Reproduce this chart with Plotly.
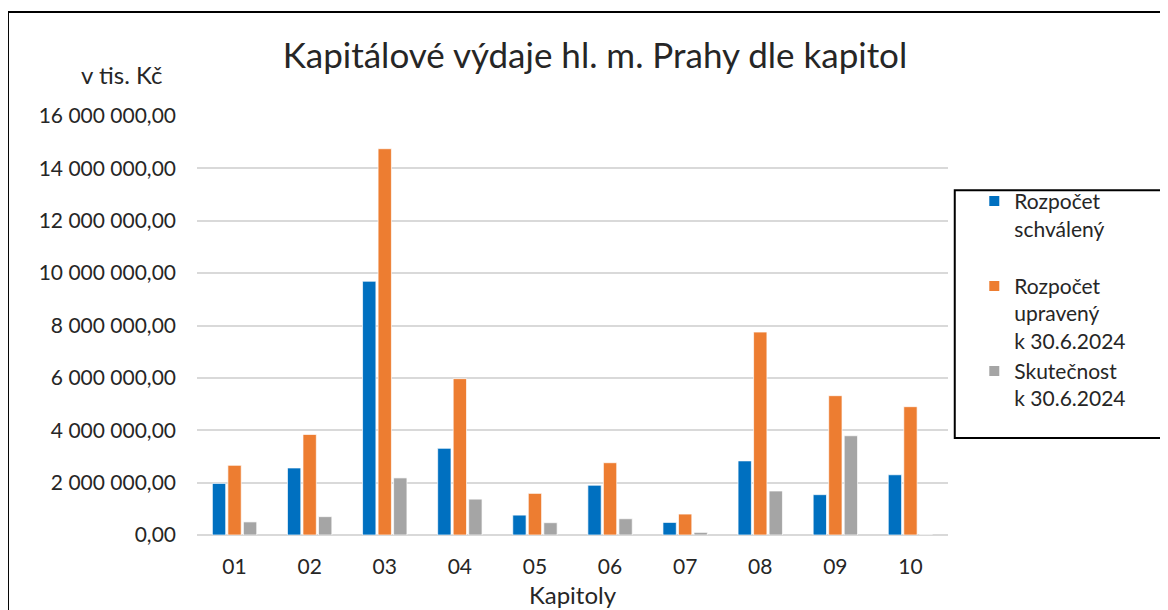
import plotly.graph_objects as go

kapitoly = ["01", "02", "03", "04", "05", "06", "07", "08", "09", "10"]

schvaleny = [1970000, 2560000, 9690000, 3310000, 760000, 1900000, 480000, 2830000, 1540000, 2300000]
upraveny = [2660000, 3840000, 14750000, 5970000, 1590000, 2760000, 800000, 7750000, 5320000, 4900000]
skutecnost = [500000, 700000, 2180000, 1370000, 470000, 620000, 100000, 1680000, 3790000, 0]

y_ticks = [0, 2000000, 4000000, 6000000, 8000000, 10000000, 12000000, 14000000, 16000000]
y_labels = ["0,00", "2 000 000,00", "4 000 000,00", "6 000 000,00", "8 000 000,00",
            "10 000 000,00", "12 000 000,00", "14 000 000,00", "16 000 000,00"]

names = ["Rozpočet<br>schválený<br> ",
         "Rozpočet<br>upravený<br>k 30.6.2024",
         "Skutečnost<br>k 30.6.2024"]
colors = ["#0070C0", "#ED7D31", "#A5A5A5"]

font = "Lato, 'Open Sans', sans-serif"

fig = go.Figure()
for vals, name, col in zip([schvaleny, upraveny, skutecnost], names, colors):
    fig.add_trace(go.Bar(x=kapitoly, y=vals, name=name,
                         marker=dict(color=col, line=dict(color="white", width=0.7))))

fig.update_layout(
    width=1160, height=602,
    margin=dict(l=189, r=220, t=108, b=75),
    paper_bgcolor="white", plot_bgcolor="white",
    font=dict(family=font, color="#262626", size=21),
    barmode="group", bargap=0.38, bargroupgap=0.14,
    title=dict(text="Kapitálové výdaje hl. m. Prahy dle kapitol",
               x=0.506, xanchor="center", y=0.92, yanchor="middle",
               font=dict(size=35, color="#262626")),
    xaxis=dict(title=dict(text="Kapitoly", font=dict(size=24), standoff=10),
               showgrid=False, ticks="", showline=False, tickfont=dict(size=21),
               ticklabelstandoff=17, automargin=False),
    yaxis=dict(range=[0, 16000000], tickvals=y_ticks, ticktext=y_labels,
               gridcolor="#D9D9D9", gridwidth=1.5, zeroline=True,
               zerolinecolor="#D9D9D9", zerolinewidth=1.5, showline=False,
               tickfont=dict(size=21), ticklabelstandoff=20, automargin=False),
    legend=dict(x=1.035, y=0.845, xanchor="left", yanchor="top", valign="top",
                font=dict(size=21, color="#262626"), bgcolor="rgba(0,0,0,0)",
                itemsizing="constant", tracegroupgap=0),
    shapes=[
        dict(type="rect", xref="paper", yref="paper", x0=-0.2517, x1=1.4,
             y0=-0.3, y1=1.248, line=dict(color="black", width=2), layer="below"),
        dict(type="rect", xref="paper", yref="paper", x0=1.009, x1=1.4,
             y0=0.2315, y1=0.823, line=dict(color="black", width=2)),
    ],
    annotations=[
        dict(text="v tis. Kč", xref="paper", yref="paper", x=-0.101, y=1.098,
             xanchor="center", yanchor="middle", showarrow=False,
             font=dict(size=24, color="#262626")),
    ],
)

fig.write_html("out.html")
